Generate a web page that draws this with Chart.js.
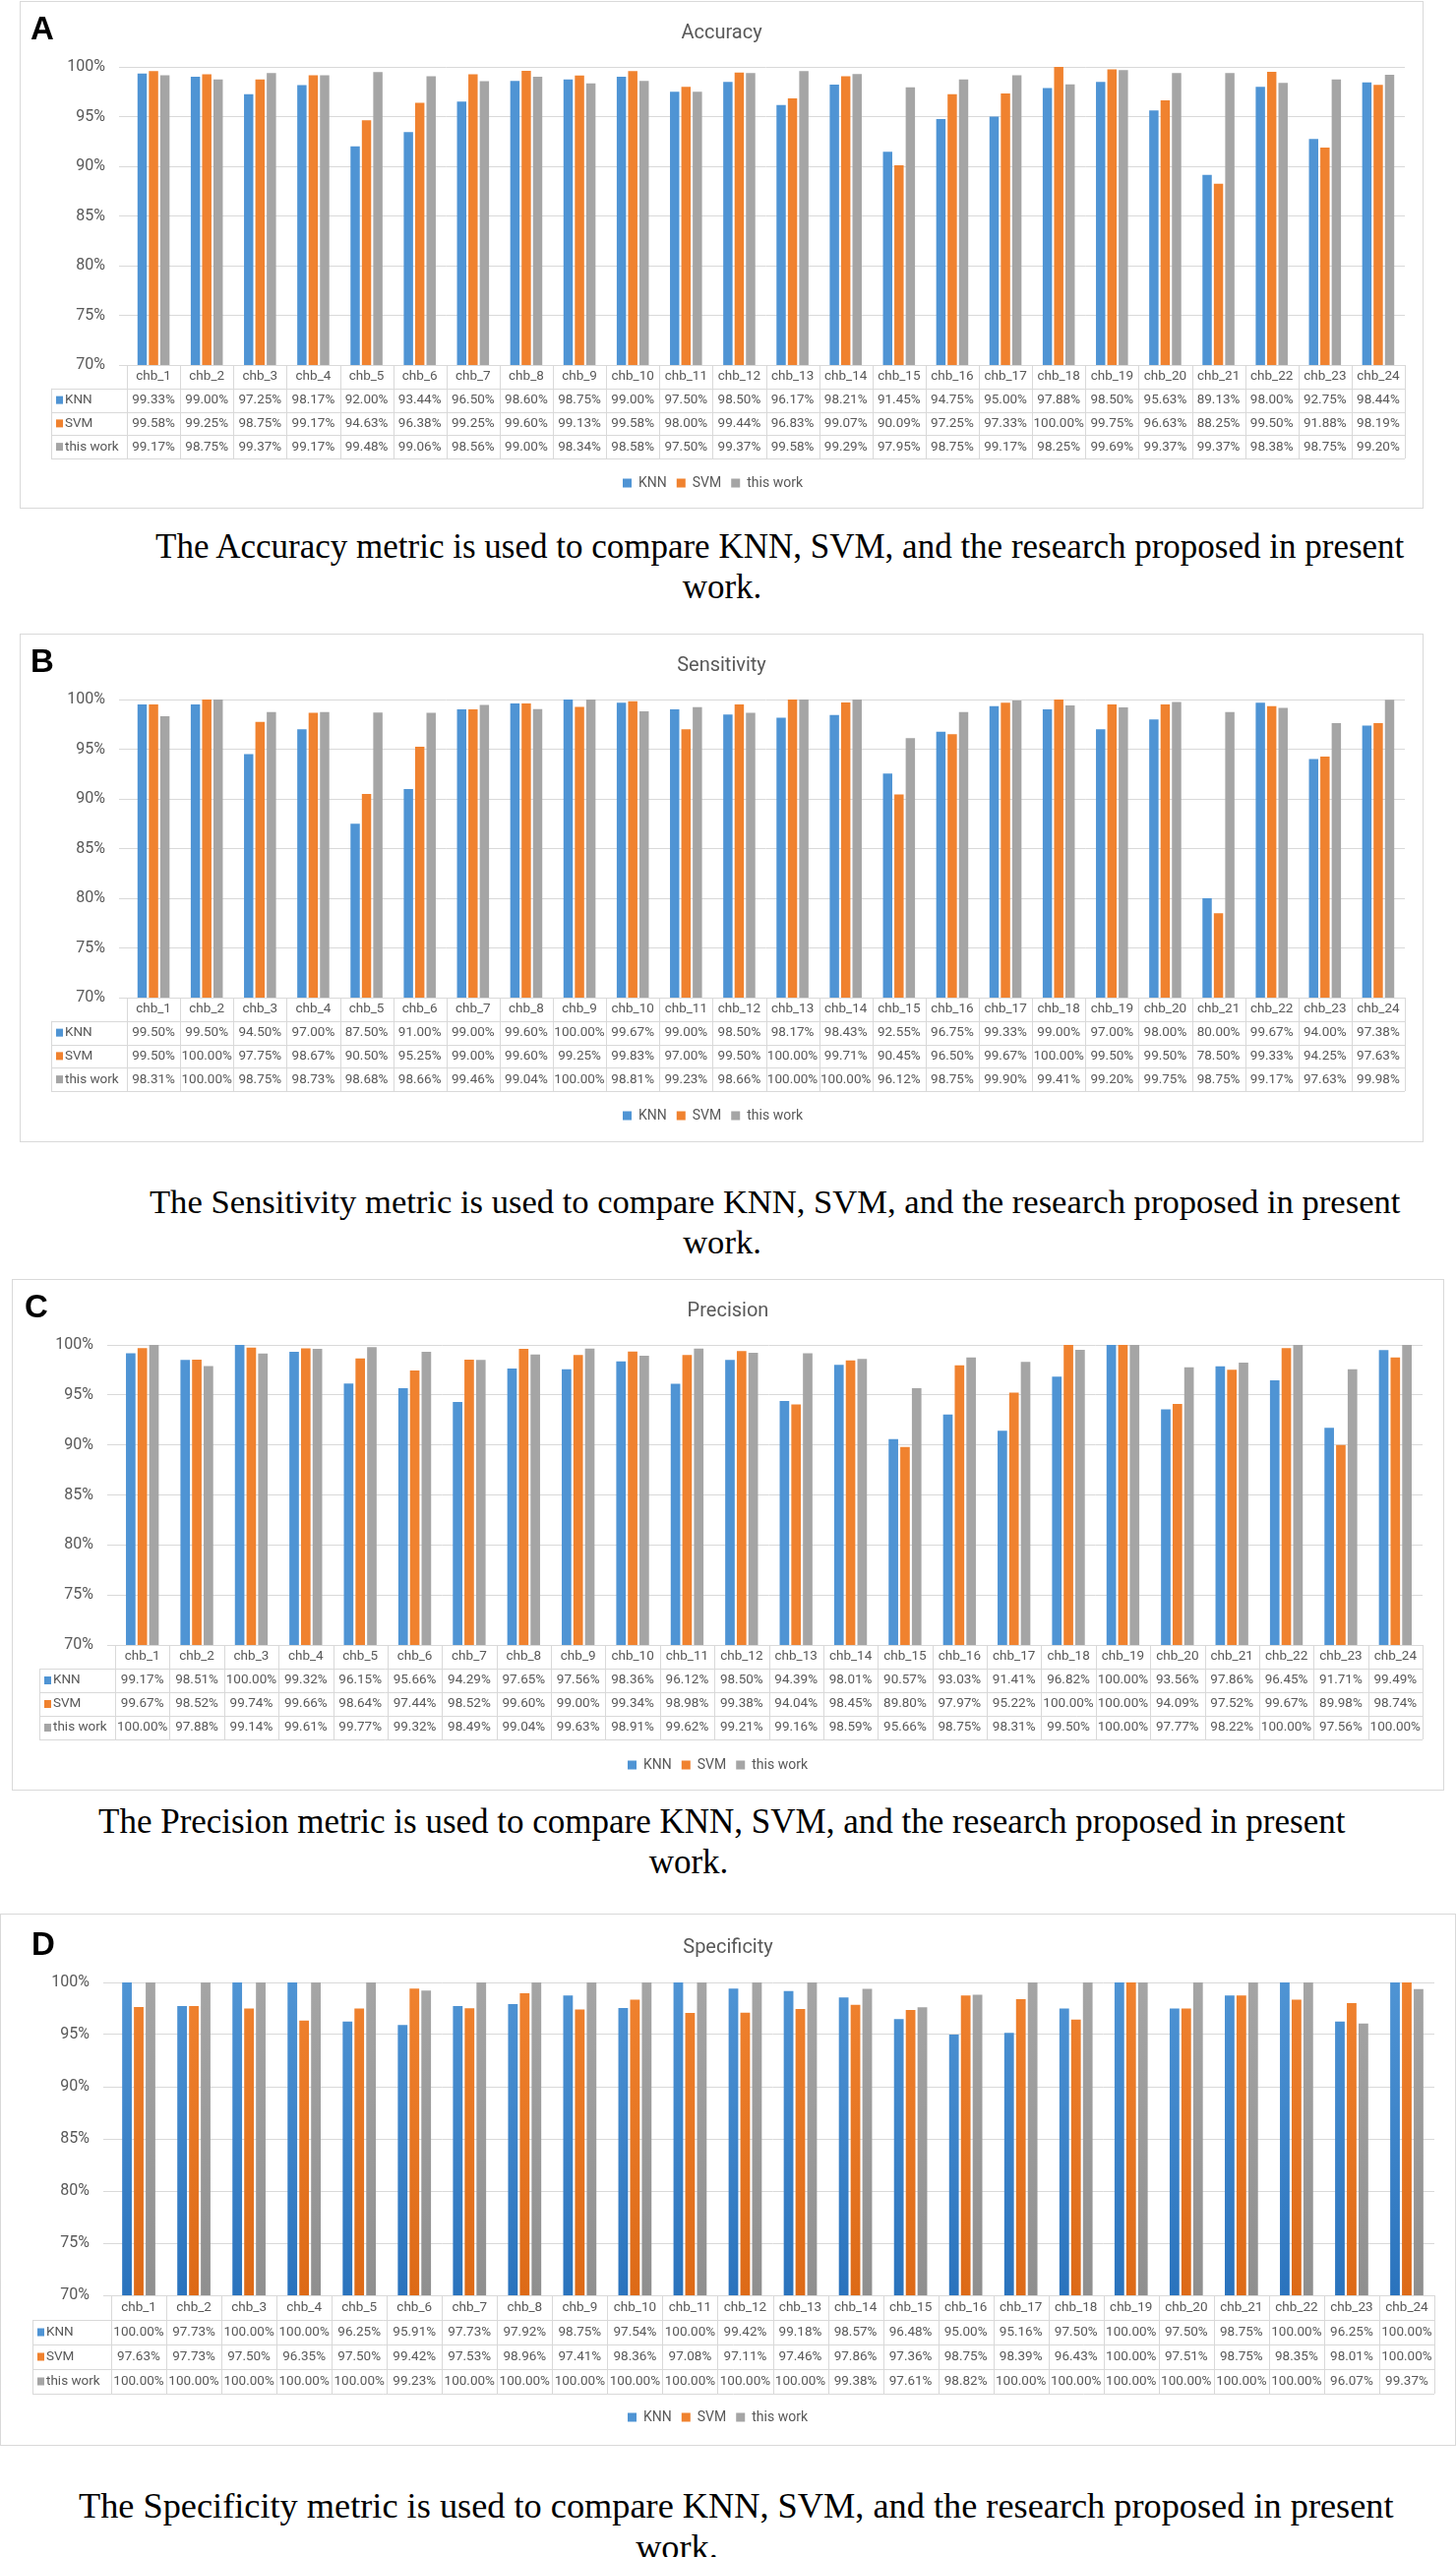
<!DOCTYPE html>
<html lang="en">
<head>
<meta charset="UTF-8">
<title>KNN, SVM and this work</title>
<script src="https://cdn.jsdelivr.net/npm/chart.js"></script>
<style>
  body { margin: 0; background: #fff; width: 1480px; height: 2599px; position: relative; overflow: hidden; }
  .panel { position: absolute; border: 1px solid #d9d9d9; box-sizing: border-box; }
  .panel canvas { position: absolute; left: 0; top: 0; }
  .letter { position: absolute; font: bold 33px 'Liberation Sans', Arial, sans-serif; line-height: 1; color: #000; }
  .title { position: absolute; left: 0; right: 0; text-align: center; font: 20px Roboto, sans-serif; line-height: 24px; color: #595959; }
  .cap { position: absolute; font-family: 'Liberation Serif', 'Times New Roman', serif; line-height: 40px; color: #000; white-space: nowrap; }
</style>
</head>
<body>
<script>
// data (percent)
const categories = ['chb_1', 'chb_2', 'chb_3', 'chb_4', 'chb_5', 'chb_6', 'chb_7', 'chb_8', 'chb_9', 'chb_10', 'chb_11', 'chb_12',
                    'chb_13', 'chb_14', 'chb_15', 'chb_16', 'chb_17', 'chb_18', 'chb_19', 'chb_20', 'chb_21', 'chb_22', 'chb_23', 'chb_24'];
const seriesNames = ['KNN', 'SVM', 'this work'];
const yTicks = [70, 75, 80, 85, 90, 95, 100];

const accuracyKNN  = [99.33, 99.00, 97.25, 98.17, 92.00, 93.44, 96.50, 98.60, 98.75, 99.00, 97.50, 98.50, 96.17, 98.21, 91.45, 94.75, 95.00, 97.88, 98.50, 95.63, 89.13, 98.00, 92.75, 98.44];
const accuracySVM  = [99.58, 99.25, 98.75, 99.17, 94.63, 96.38, 99.25, 99.60, 99.13, 99.58, 98.00, 99.44, 96.83, 99.07, 90.09, 97.25, 97.33, 100.00, 99.75, 96.63, 88.25, 99.50, 91.88, 98.19];
const accuracyOurs = [99.17, 98.75, 99.37, 99.17, 99.48, 99.06, 98.56, 99.00, 98.34, 98.58, 97.50, 99.37, 99.58, 99.29, 97.95, 98.75, 99.17, 98.25, 99.69, 99.37, 99.37, 98.38, 98.75, 99.20];

const sensitivityKNN  = [99.50, 99.50, 94.50, 97.00, 87.50, 91.00, 99.00, 99.60, 100.00, 99.67, 99.00, 98.50, 98.17, 98.43, 92.55, 96.75, 99.33, 99.00, 97.00, 98.00, 80.00, 99.67, 94.00, 97.38];
const sensitivitySVM  = [99.50, 100.00, 97.75, 98.67, 90.50, 95.25, 99.00, 99.60, 99.25, 99.83, 97.00, 99.50, 100.00, 99.71, 90.45, 96.50, 99.67, 100.00, 99.50, 99.50, 78.50, 99.33, 94.25, 97.63];
const sensitivityOurs = [98.31, 100.00, 98.75, 98.73, 98.68, 98.66, 99.46, 99.04, 100.00, 98.81, 99.23, 98.66, 100.00, 100.00, 96.12, 98.75, 99.90, 99.41, 99.20, 99.75, 98.75, 99.17, 97.63, 99.98];

const precisionKNN  = [99.17, 98.51, 100.00, 99.32, 96.15, 95.66, 94.29, 97.65, 97.56, 98.36, 96.12, 98.50, 94.39, 98.01, 90.57, 93.03, 91.41, 96.82, 100.00, 93.56, 97.86, 96.45, 91.71, 99.49];
const precisionSVM  = [99.67, 98.52, 99.74, 99.66, 98.64, 97.44, 98.52, 99.60, 99.00, 99.34, 98.98, 99.38, 94.04, 98.45, 89.80, 97.97, 95.22, 100.00, 100.00, 94.09, 97.52, 99.67, 89.98, 98.74];
const precisionOurs = [100.00, 97.88, 99.14, 99.61, 99.77, 99.32, 98.49, 99.04, 99.63, 98.91, 99.62, 99.21, 99.16, 98.59, 95.66, 98.75, 98.31, 99.50, 100.00, 97.77, 98.22, 100.00, 97.56, 100.00];

const specificityKNN  = [100.00, 97.73, 100.00, 100.00, 96.25, 95.91, 97.73, 97.92, 98.75, 97.54, 100.00, 99.42, 99.18, 98.57, 96.48, 95.00, 95.16, 97.50, 100.00, 97.50, 98.75, 100.00, 96.25, 100.00];
const specificitySVM  = [97.63, 97.73, 97.50, 96.35, 97.50, 99.42, 97.53, 98.96, 97.41, 98.36, 97.08, 97.11, 97.46, 97.86, 97.36, 98.75, 98.39, 96.43, 100.00, 97.51, 98.75, 98.35, 98.01, 100.00];
const specificityOurs = [100.00, 100.00, 100.00, 100.00, 100.00, 99.23, 100.00, 100.00, 100.00, 100.00, 100.00, 100.00, 100.00, 99.38, 97.61, 98.82, 100.00, 100.00, 100.00, 100.00, 100.00, 100.00, 96.07, 99.37];

const colors = ['#4f94d4', '#f0822f', '#a5a5a5'];
const darkColors = ['#2a73bd', '#dd6a17', '#8f8f8f'];
const textGrey = '#595959';
const lineGrey = '#d9d9d9';

// layout of each panel: box in page px, the rest relative to the box
const panels = [
  { letter: 'A', title: 'Accuracy', values: [accuracyKNN, accuracySVM, accuracyOurs],
    box: [20, 1, 1427, 516], letterAt: [10, 10], titleY: 30,
    plotTop: 67, plotBottom: 370, tableBottom: 465, legendY: 490, plotLeft: 109, plotRight: 1408, tableLeft: 32,
    caption: 'The Accuracy metric is used to compare KNN, SVM, and the research proposed in present',
    capX: 158, capY: 556, workX: 734, workY: 597, capSize: 35 },
  { letter: 'B', title: 'Sensitivity', values: [sensitivityKNN, sensitivitySVM, sensitivityOurs],
    box: [20, 644, 1427, 517], letterAt: [10, 10], titleY: 30,
    plotTop: 67, plotBottom: 370, tableBottom: 465, legendY: 490, plotLeft: 109, plotRight: 1408, tableLeft: 32,
    caption: 'The Sensitivity metric is used to compare KNN, SVM, and the research proposed in present',
    capX: 152, capY: 1221, workX: 734, workY: 1262, capSize: 34.6 },
  { letter: 'C', title: 'Precision', values: [precisionKNN, precisionSVM, precisionOurs],
    box: [12, 1300, 1456, 520], letterAt: [12, 10], titleY: 30,
    plotTop: 67, plotBottom: 372, tableBottom: 468, legendY: 494, plotLeft: 105, plotRight: 1434, tableLeft: 28,
    caption: 'The Precision metric is used to compare KNN, SVM, and the research proposed in present',
    capX: 100, capY: 1852, workX: 700, workY: 1893, capSize: 35 },
  { letter: 'D', title: 'Specificity', values: [specificityKNN, specificitySVM, specificityOurs], gradient: true,
    box: [0, 1945, 1480, 541], letterAt: [31, 13], titleY: 32,
    plotTop: 70, plotBottom: 388, tableBottom: 488, legendY: 512, plotLeft: 113, plotRight: 1458, tableLeft: 33,
    caption: 'The Specificity metric is used to compare KNN, SVM, and the research proposed in present',
    capX: 80, capY: 2547, workX: 688, workY: 2589, capSize: 36.3 }
];

// draws the data table under the plot, columns taken from the x scale
const dataTable = {
  id: 'dataTable',
  afterDraw(chart, args, opts) {
    const { ctx, chartArea, scales } = chart;
    const x = scales.x;
    const n = chart.data.labels.length;
    const colW = x.width / n;
    const top = chartArea.bottom;
    const rowH = opts.rowH;
    const rows = chart.data.datasets.length + 1;
    const bottom = top + rowH * rows;
    ctx.save();
    ctx.strokeStyle = lineGrey;
    ctx.lineWidth = 1;
    ctx.beginPath();
    for (let r = 0; r <= rows; r++) {
      const y = Math.round(top + r * rowH) + 0.5;
      ctx.moveTo(r === 0 ? x.left : opts.left, y);
      ctx.lineTo(x.right, y);
    }
    for (let i = 0; i <= n; i++) {
      const xx = Math.round(x.left + i * colW) + 0.5;
      ctx.moveTo(xx, top);
      ctx.lineTo(xx, bottom);
    }
    ctx.moveTo(opts.left + 0.5, top + rowH);
    ctx.lineTo(opts.left + 0.5, bottom);
    ctx.stroke();

    ctx.font = '13.5px Roboto, sans-serif';
    ctx.textAlign = 'center';
    ctx.textBaseline = 'middle';
    ctx.fillStyle = textGrey;
    chart.data.labels.forEach((lab, i) => {
      ctx.fillText(lab, x.getPixelForValue(i), top + rowH / 2);
    });
    chart.data.datasets.forEach((ds, k) => {
      const cy = top + rowH * (k + 1.5);
      ctx.fillStyle = textGrey;
      ctx.textAlign = 'center';
      ds.data.forEach((v, i) => {
        ctx.fillText(v.toFixed(2) + '%', x.getPixelForValue(i), cy);
      });
      ctx.fillStyle = colors[k];
      ctx.fillRect(opts.left + 5, cy - 4, 7, 8);
      ctx.fillStyle = textGrey;
      ctx.textAlign = 'left';
      ctx.fillText(ds.label, opts.left + 14, cy);
    });
    ctx.restore();
  }
};

function barFill(k, gradient) {
  if (!gradient) return colors[k];
  return c => {
    const a = c.chart.chartArea;
    if (!a) return colors[k];
    const g = c.chart.ctx.createLinearGradient(0, a.top, 0, a.bottom);
    g.addColorStop(0, colors[k]);
    g.addColorStop(1, darkColors[k]);
    return g;
  };
}

const legendH = 34;

panels.forEach(p => {
  const [bx, by, bw, bh] = p.box;
  const div = document.createElement('div');
  div.className = 'panel';
  div.style.cssText = `left:${bx}px;top:${by}px;width:${bw}px;height:${bh}px`;
  document.body.appendChild(div);

  const W = bw - 2, H = bh - 2;
  const canvas = document.createElement('canvas');
  canvas.width = W; canvas.height = H;
  div.appendChild(canvas);

  const letter = document.createElement('div');
  letter.className = 'letter';
  letter.textContent = p.letter;
  letter.style.left = p.letterAt[0] + 'px';
  letter.style.top = p.letterAt[1] + 'px';
  div.appendChild(letter);

  const title = document.createElement('div');
  title.className = 'title';
  title.textContent = p.title;
  title.style.top = (p.titleY - 12) + 'px';
  div.appendChild(title);

  const cap1 = document.createElement('div');
  cap1.className = 'cap';
  cap1.textContent = p.caption;
  cap1.style.fontSize = p.capSize + 'px';
  cap1.style.left = p.capX + 'px';
  cap1.style.top = (p.capY - 20) + 'px';
  document.body.appendChild(cap1);
  const cap2 = document.createElement('div');
  cap2.className = 'cap';
  cap2.textContent = 'work.';
  cap2.style.fontSize = p.capSize + 'px';
  cap2.style.left = (p.workX - 200) + 'px';
  cap2.style.width = '400px';
  cap2.style.textAlign = 'center';
  cap2.style.top = (p.workY - 20) + 'px';
  document.body.appendChild(cap2);

  const plotTop = p.plotTop - 1, plotBottom = p.plotBottom - 1;
  const legendTop = p.legendY - 1 - legendH / 2;
  const xH = legendTop - plotBottom;
  const padBottom = H - legendTop - legendH;
  const rowH = (p.tableBottom - p.plotBottom) / 4;

  new Chart(canvas, {
    type: 'bar',
    data: {
      labels: categories,
      datasets: seriesNames.map((name, k) => ({
        label: name,
        data: p.values[k],
        backgroundColor: barFill(k, p.gradient),
        categoryPercentage: 0.64,
        barPercentage: 0.82
      }))
    },
    options: {
      responsive: false,
      animation: false,
      devicePixelRatio: 1,
      layout: { padding: { top: plotTop, right: W - (p.plotRight - 1), bottom: padBottom, left: 0 } },
      plugins: {
        legend: {
          position: 'bottom',
          labels: {
            boxWidth: 9, boxHeight: 9, padding: 10, color: textGrey, font: { family: 'Roboto', size: 14 },
            generateLabels: chart => chart.data.datasets.map((ds, k) => ({
              text: ds.label, fillStyle: colors[k], strokeStyle: colors[k], lineWidth: 0,
              fontColor: textGrey, datasetIndex: k, hidden: false
            }))
          }
        },
        tooltip: { enabled: false },
        dataTable: { left: p.tableLeft - 1, rowH: rowH }
      },
      scales: {
        x: {
          ticks: { display: false },
          grid: { display: false },
          border: { display: false },
          afterFit: s => { s.height = xH; }
        },
        y: {
          min: 70,
          max: 100,
          afterBuildTicks: s => { s.ticks = yTicks.map(v => ({ value: v })); },
          ticks: { callback: v => v + '%', color: textGrey, padding: 14, font: { family: 'Roboto', size: 16 } },
          grid: { color: lineGrey },
          border: { display: false },
          afterFit: s => { s.width = p.plotLeft - 1; }
        }
      }
    },
    plugins: [dataTable]
  });
});
</script>
</body>
</html>
